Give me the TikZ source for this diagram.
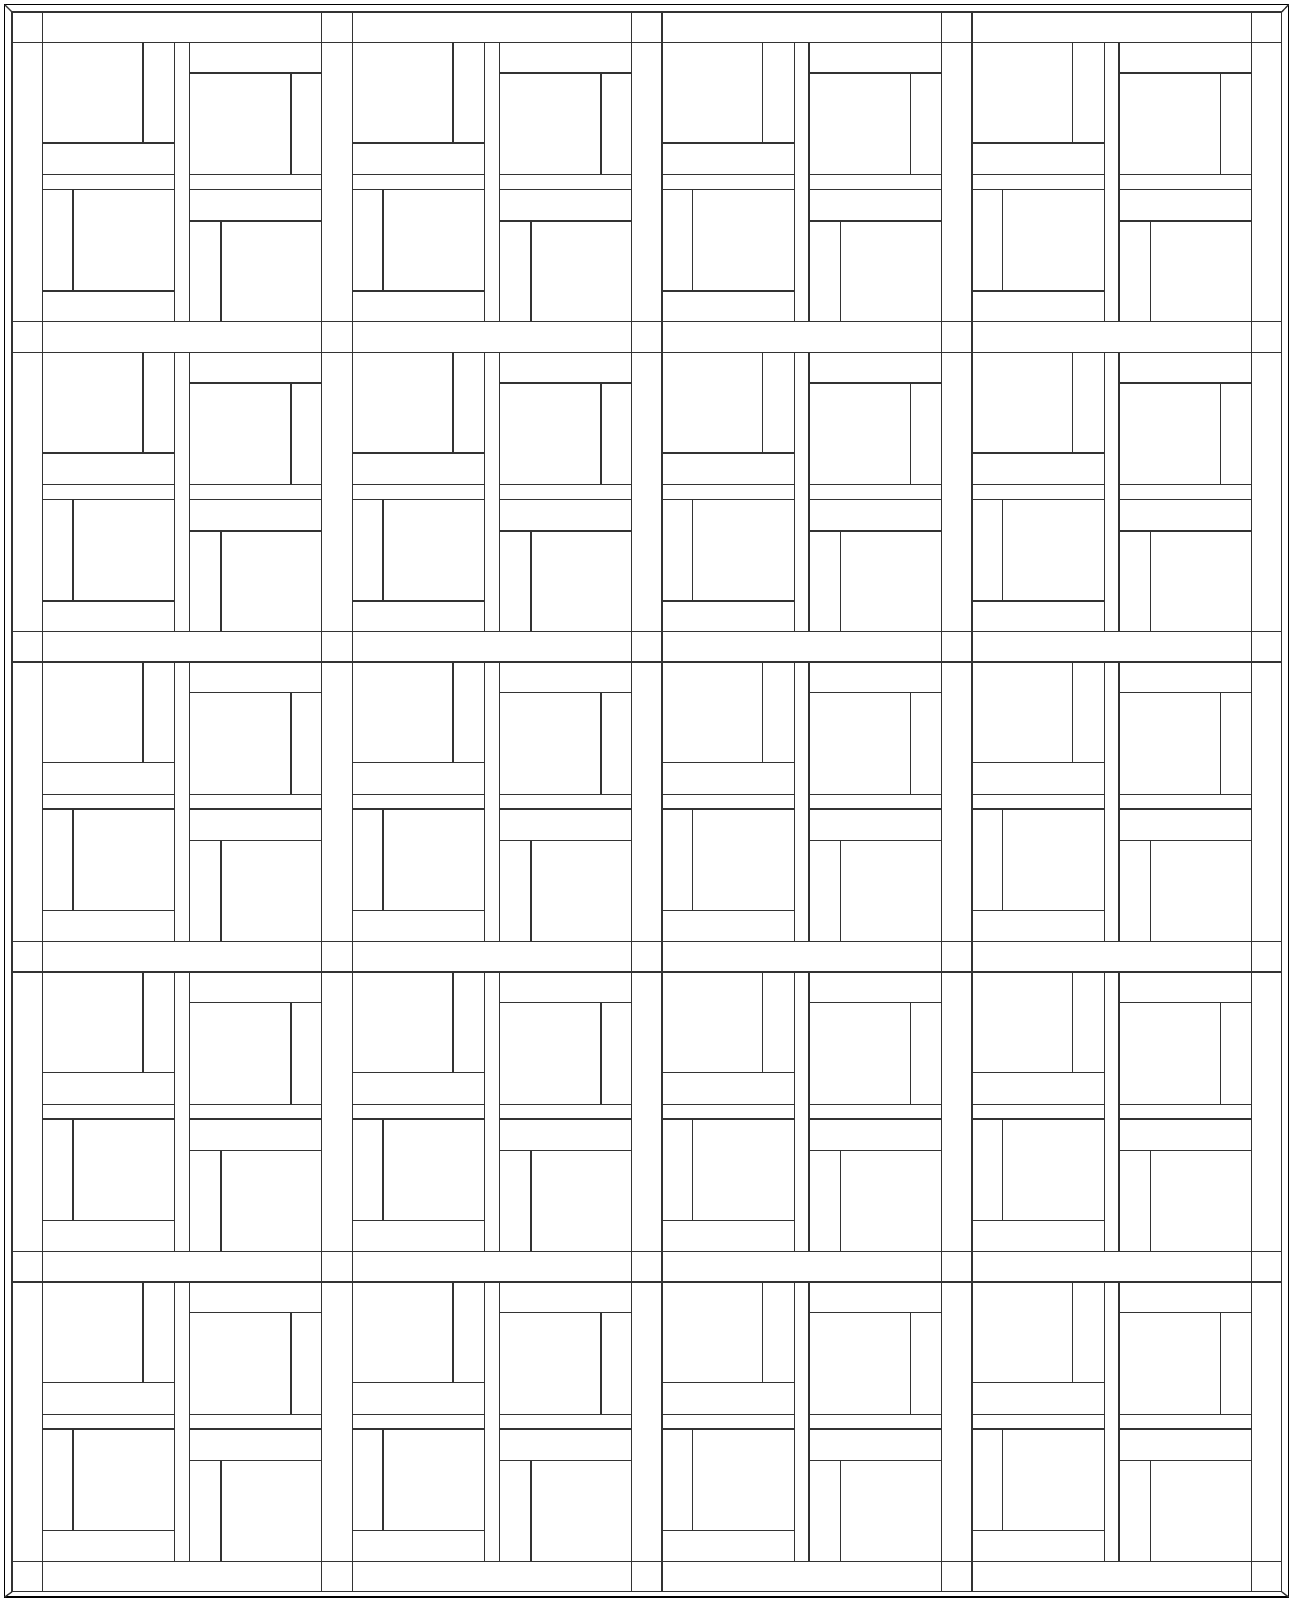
\documentclass[tikz,border=0pt]{standalone}
\usepackage{tikz}
\usetikzlibrary{calc}

\begin{document}
\begin{tikzpicture}[
  x=0.02cm, y=-0.02cm,
  seam/.style={draw=black!80, line width=0.75pt},
  binding/.style={draw=black, line width=0.9pt},
  blockpitch/.store in=\pitch, blockpitch=309.9
]
  \useasboundingbox (0,0) rectangle (1297,1598);

  % mitred binding round the quilt
  \coordinate (otl) at (4.7,4.7);    \coordinate (otr) at (1288.5,4.7);
  \coordinate (obl) at (4.7,1597);   \coordinate (obr) at (1288.5,1597);
  \coordinate (itl) at (12,12);      \coordinate (itr) at (1281.7,12);
  \coordinate (ibl) at (12,1591.8);  \coordinate (ibr) at (1281.7,1591.8);
  \draw[binding] (otl) -- (otr) -- (obr) -- (obl) -- cycle;
  \draw[seam] (itl) -- (itr) -- (ibr) -- (ibl) -- cycle;
  \foreach \c in {tl,tr,bl,br}
    \draw[seam] (o\c) -- (i\c);

  % sashing
  \foreach \k in {0,...,3} {
    \draw[seam] ({42.3+\k*\pitch},12) -- ({42.3+\k*\pitch},1591.8);
    \draw[seam] ({321.6+\k*\pitch},12) -- ({321.6+\k*\pitch},1591.8);
  }
  \foreach \k in {0,...,4} {
    \draw[seam] (12,{42.3+\k*\pitch}) -- (1281.7,{42.3+\k*\pitch});
    \draw[seam] (12,{321.6+\k*\pitch}) -- (1281.7,{321.6+\k*\pitch});
  }

  % blocks
  \foreach \col in {0,...,3}
  \foreach \row in {0,...,4} {
    \begin{scope}[shift={({42.3+\col*\pitch},{42.3+\row*\pitch})}]
      % centre cross
      \draw[seam] (132.3,0) -- (132.3,279.3);
      \draw[seam] (147,0) -- (147,279.3);
      \draw[seam] (0,132.3) -- (132.3,132.3) (147,132.3) -- (279.3,132.3);
      \draw[seam] (0,147) -- (132.3,147) (147,147) -- (279.3,147);
      % top left
      \draw[seam] (100.7,0) -- (100.7,100.7);
      \draw[seam] (0,100.7) -- (132.3,100.7);
      % bottom left
      \draw[seam] (30.7,147) -- (30.7,248.7);
      \draw[seam] (0,248.7) -- (132.3,248.7);
      % top right
      \draw[seam] (147,30.7) -- (279.3,30.7);
      \draw[seam] (248.7,30.7) -- (248.7,132.3);
      % bottom right
      \draw[seam] (147,178.7) -- (279.3,178.7);
      \draw[seam] (178.7,178.7) -- (178.7,279.3);
    \end{scope}
  }
\end{tikzpicture}
\end{document}
